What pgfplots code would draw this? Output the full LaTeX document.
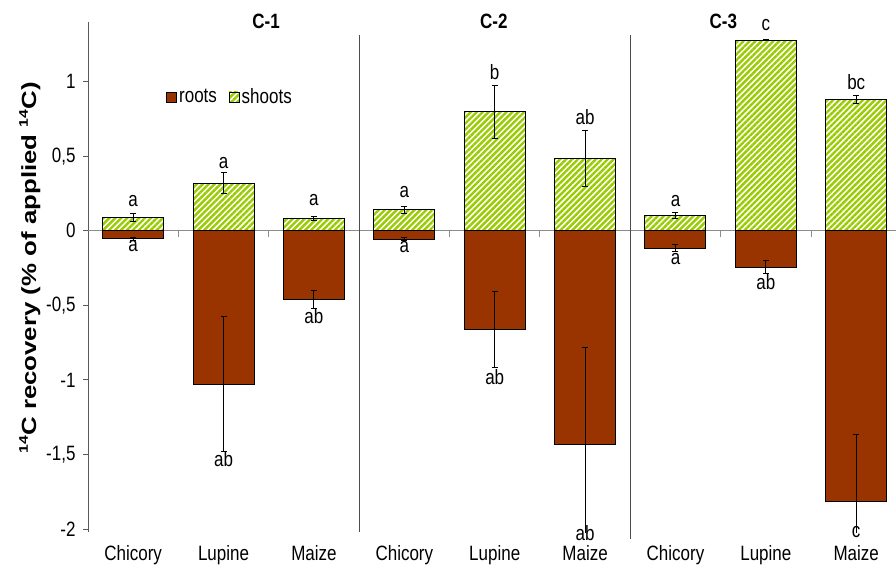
\documentclass[border=0pt]{standalone}
\usepackage{graphicx}
\usepackage{pgfplots}
\pgfplotsset{compat=1.18}
\usepackage{pgfplotstable}
\usepackage{fontspec}
\setmainfont{Liberation Sans}
\usetikzlibrary{patterns.meta}
\definecolor{rootcol}{HTML}{993300}
\definecolor{shootcol}{HTML}{99CC00}
\newcommand\chartfont{\fontsize{17}{20}\selectfont}
% text is set slightly taller than wide
\newcommand\vs[1]{\scalebox{1}[1.22]{#1}}
\newcommand\supnum[1]{\raisebox{0.4em}{\fontsize{12.5}{14}\selectfont #1}}

% x: position, shoot mean / error, root mean / error
\pgfplotstableread{
x shoot shooterr root rooterr
0 0.089 0.028 -0.052 0.010
1 0.320 0.070 -1.028 0.455
2 0.083 0.015 -0.462 0.060
3 0.141 0.022 -0.056 0.010
4 0.797 0.178 -0.661 0.253
5 0.485 0.186 -1.435 0.653
6 0.100 0.020 -0.117 0.022
7 1.278 0.005 -0.244 0.045
8 0.880 0.028 -1.818 0.451
}\data

\begin{document}
\begin{tikzpicture}
\begin{axis}[
  at={(0,0)}, anchor=south west,
  scale only axis, width=808pt, height=510pt,
  xmin=-0.5, xmax=8.44, ymin=-2.02, ymax=1.4,
  axis y line=left, axis x line=bottom,
  x axis line style={draw=none},
  y axis line style={-, draw=black!65, line width=0.9pt},
  xtick={0,...,8},
  xticklabels={\vs{Chicory},\vs{Lupine},\vs{Maize},\vs{Chicory},\vs{Lupine},\vs{Maize},\vs{Chicory},\vs{Lupine},\vs{Maize}},
  x tick style={draw=none},
  xticklabel style={font=\chartfont, yshift=-5pt},
  ytick={-2,-1.5,-1,-0.5,0,0.5,1},
  yticklabels={\vs{-2},\vs{-1,5},\vs{-1},\vs{-0,5},\vs{0},\vs{0,5},\vs{1}},
  y tick style={draw=black!65, line width=0.8pt},
  tick align=outside, major tick length=5pt,
  yticklabel style={font=\chartfont, xshift=-4pt},
  ylabel={\scalebox{1.26}[1]{\bfseries\supnum{14}C recovery (\% of applied \supnum{14}C)}},
  ylabel style={font=\fontsize{20.5}{24}\selectfont, at={(axis description cs:-0.072,0.518)}, anchor=center},
  clip mode=individual,
  legend style={draw=none, fill=none, font=\chartfont, legend columns=2,
    at={(axis description cs:0.093,0.853)}, anchor=west,
    /tikz/every even column/.append style={column sep=10pt}},
  legend image code/.code={\draw[#1, line width=0.8pt] (0pt,-5pt) rectangle (10pt,5pt);},
  error bars/error bar style={black, line width=1pt},
  error bars/error mark options={black, line width=1pt, mark size=3pt, rotate=90},
]
% zero line with category separator ticks
\draw[black!45, line width=0.9pt] (axis cs:-0.5,0) -- (axis cs:8.44,0);
\pgfplotsinvokeforeach{0.5,1.5,2.5,3.5,4.5,5.5,6.5,7.5}{
  \draw[black!45, line width=0.9pt] (axis cs:#1,0) -- ([yshift=-6pt]axis cs:#1,0);
}

\addplot[ybar, bar width=0.675, bar shift=0pt, draw=black, line width=1pt, fill=rootcol,
  error bars/.cd, y dir=both, y explicit]
  table[x=x, y=root, y error=rooterr] {\data};
\addlegendentry{\vs{roots}}
\addplot[ybar, bar width=0.675, bar shift=0pt, draw=black, line width=1pt,
  pattern={Lines[angle=45, distance=4.2pt, line width=2.4pt]}, pattern color=shootcol,
  error bars/.cd, y dir=both, y explicit]
  table[x=x, y=shoot, y error=shooterr] {\data};
\addlegendentry{\vs{shoots}}

% panel separators and titles
\draw[black!70, line width=1pt] (axis cs:2.5,1.314) -- (axis cs:2.5,-2.02);
\draw[black!70, line width=1pt] (axis cs:5.5,1.314) -- (axis cs:5.5,-2.07);
\node[font=\chartfont\bfseries] at (axis cs:1.47,1.403) {\vs{C-1}};
\node[font=\chartfont\bfseries] at (axis cs:3.99,1.403) {\vs{C-2}};
\node[font=\chartfont\bfseries] at (axis cs:6.53,1.403) {\vs{C-3}};

% significance letters
\begin{scope}[every node/.style={font=\chartfont}]
\node at (axis cs:0,0.20) {\vs{a}};
\node at (axis cs:0,-0.105) {\vs{a}};
\node at (axis cs:1,0.453) {\vs{a}};
\node at (axis cs:1,-1.53) {\vs{ab}};
\node at (axis cs:2,0.208) {\vs{a}};
\node at (axis cs:2,-0.57) {\vs{ab}};
\node at (axis cs:3,0.257) {\vs{a}};
\node at (axis cs:3,-0.11) {\vs{a}};
\node at (axis cs:4,1.066) {\vs{b}};
\node at (axis cs:4,-0.98) {\vs{ab}};
\node at (axis cs:5,0.762) {\vs{ab}};
\node at (axis cs:5,-2.03) {\vs{ab}};
\node at (axis cs:6,0.197) {\vs{a}};
\node at (axis cs:6,-0.19) {\vs{a}};
\node at (axis cs:7,1.38) {\vs{c}};
\node at (axis cs:7,-0.342) {\vs{ab}};
\node at (axis cs:8,1.0) {\vs{bc}};
\node at (axis cs:8,-2.02) {\vs{c}};
\end{scope}
\end{axis}
\pgfresetboundingbox
\path (-88pt,-33pt) rectangle (808pt,532pt);
\end{tikzpicture}
\end{document}
